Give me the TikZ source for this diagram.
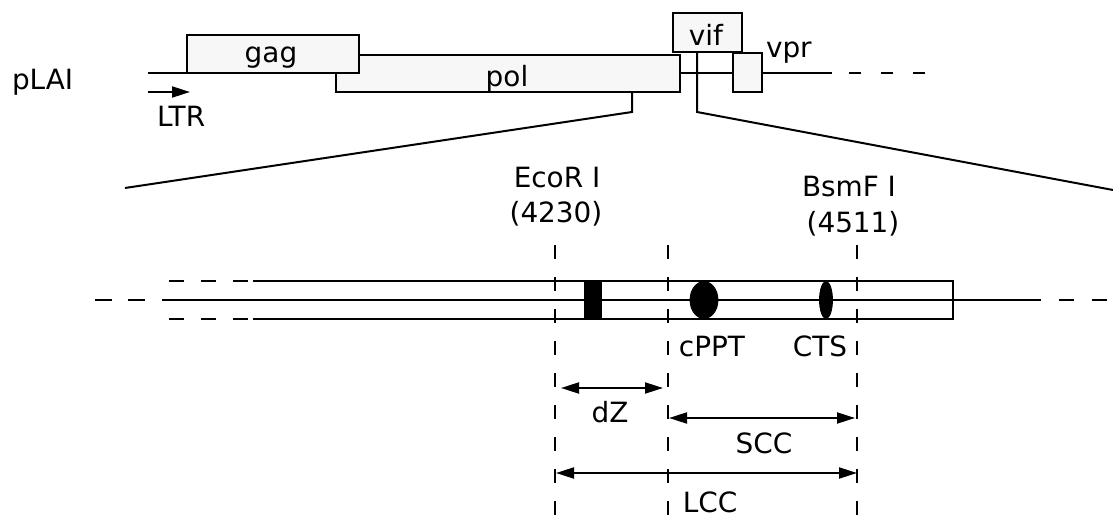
\documentclass[tikz,border=0pt]{standalone}
\usepackage{fontspec}
\setmainfont{DejaVu Sans}
\usetikzlibrary{arrows.meta,shapes.geometric}
\begin{document}
\begin{tikzpicture}[x=1bp,y=-1bp,
  txt/.style={inner sep=0pt, outer sep=0pt, font=\fontsize{28}{34}\selectfont},
  genebox/.style={draw, line width=2.4bp, fill=black!3, inner sep=0pt, outer sep=0pt},
  thinline/.style={line width=2bp},
  strand/.style={line width=2.2bp},
  cutline/.style={line width=2.2bp, dash pattern=on 14bp off 18bp},
  dimarrow/.style={line width=2bp, {Triangle[length=18bp,width=11bp]}-{Triangle[length=18bp,width=11bp]}},
  blackmark/.style={fill=black, draw=black, line width=0.8bp}]
\useasboundingbox (0,0) rectangle (1113,517);
\fill[white] (0,0) rectangle (1113,517);

% ---------- top map ----------
\coordinate (bbL) at (148,73);
\node[genebox, minimum width=344bp, minimum height=37bp] (pol) at (508,73.5) {};
\node[genebox, minimum width=172bp, minimum height=38bp] (gag) at (273,54) {};
\node[genebox, minimum width=29bp, minimum height=39bp] (vpr) at (747.5,72.5) {};
\node[genebox, minimum width=69bp, minimum height=39bp] (vif) at (707.5,32.5) {};
\draw[thinline] (bbL) -- (bbL -| gag.west);
\draw[thinline] (pol.east |- 0,73) -- (vpr.west |- 0,73);
\coordinate (bbR) at (832,73);
\coordinate (bbDa) at (849,73);
\coordinate (bbDb) at (927,73);
\draw[thinline] (vpr.east |- 0,73) -- (bbR);
\draw[thinline, dash pattern=on 12bp off 20bp] (bbDa) -- (bbDb);

\node[txt, anchor=base west] (plai) at (12,90) {pLAI};
\node[txt, anchor=base] (gaglab) at (271,63) {gag};
\node[txt, anchor=base] (pollab) at (507,87) {pol};
\node[txt, anchor=base] (viflab) at (706,46) {vif};
\node[txt, anchor=base west] (vprlab) at (766,58) {vpr};
\coordinate (ltrA) at (148,92);
\coordinate (ltrB) at (190,92);
\draw[thinline, -{Triangle[length=18bp,width=11bp]}] (ltrA) -- (ltrB);
\node[txt, anchor=base west] (ltr) at (157,127) {LTR};

% zoom lines
\coordinate (polD) at (632,112);
\coordinate (zL) at (125,188);
\coordinate (vifD) at (697,112);
\coordinate (zR) at (1113,190);
\draw[thinline] (pol.south -| polD) -- (polD) -- (zL);
\draw[thinline] (vif.south -| vifD) -- (vifD) -- (zR);

% ---------- expanded region ----------
\coordinate (tA) at (169,281); \coordinate (tB) at (248,281);
\coordinate (tS) at (253,281); \coordinate (tE) at (953,281);
\coordinate (bA) at (169,319); \coordinate (bB) at (248,319);
\coordinate (bS) at (253,319); \coordinate (bE) at (953,319);
\coordinate (mA) at (95,300);  \coordinate (mB) at (145,300);
\coordinate (mS) at (162,300); \coordinate (mE) at (1041,300);
\coordinate (mC) at (1059,300); \coordinate (mD) at (1107,300);
\draw[strand, dash pattern=on 15bp off 17bp] (tA) -- (tB);
\draw[strand, dash pattern=on 15bp off 17bp] (bA) -- (bB);
\draw[strand, dash pattern=on 17bp off 16bp] (mA) -- (mB);
\draw[strand, dash pattern=on 15bp off 18bp] (mC) -- (mD);
\draw[strand] (tS) -- (tE) -- (bE) -- (bS);
\draw[strand] (mS) -- (mE);

\node[blackmark, minimum width=17bp, minimum height=38bp, inner sep=0pt] (ecomark) at (592.5,300) {};
\node[blackmark, ellipse, minimum width=28bp, minimum height=37bp, inner sep=0pt] (cppt) at (704,300) {};
\node[blackmark, ellipse, minimum width=13bp, minimum height=37bp, inner sep=0pt] (cts) at (826,300) {};

% cut lines
\coordinate (c1t) at (555,245); \coordinate (c1b) at (555,517);
\coordinate (c2t) at (668,245); \coordinate (c2b) at (668,517);
\coordinate (c3t) at (857,245); \coordinate (c3b) at (857,517);
\draw[cutline] (c1t) -- (c1b);
\draw[cutline] (c2t) -- (c2b);
\draw[cutline] (c3t) -- (c3b);

\node[txt, anchor=base] (eco) at (557,188) {EcoR I};
\node[txt, anchor=base] (ecopos) at (556,223) {(4230)};
\node[txt, anchor=base] (bsm) at (849,197) {BsmF I};
\node[txt, anchor=base] (bsmpos) at (853,233) {(4511)};
\node[txt, anchor=base] (cpptlab) at (712,357) {cPPT};
\node[txt, anchor=base] (ctslab) at (820,357) {CTS};

% dimension arrows
\coordinate (dzL) at (561,388); \coordinate (dzR) at (663,388);
\coordinate (sccL) at (669,418); \coordinate (sccR) at (855,418);
\coordinate (lccL) at (556,473); \coordinate (lccR) at (857,473);
\draw[dimarrow] (dzL) -- (dzR);
\draw[dimarrow] (sccL) -- (sccR);
\draw[dimarrow] (lccL) -- (lccR);
\node[txt, anchor=base] (dz) at (610,422) {dZ};
\node[txt, anchor=base] (scc) at (764,453) {SCC};
\node[txt, anchor=base] (lcc) at (710,512) {LCC};
\end{tikzpicture}
\end{document}
